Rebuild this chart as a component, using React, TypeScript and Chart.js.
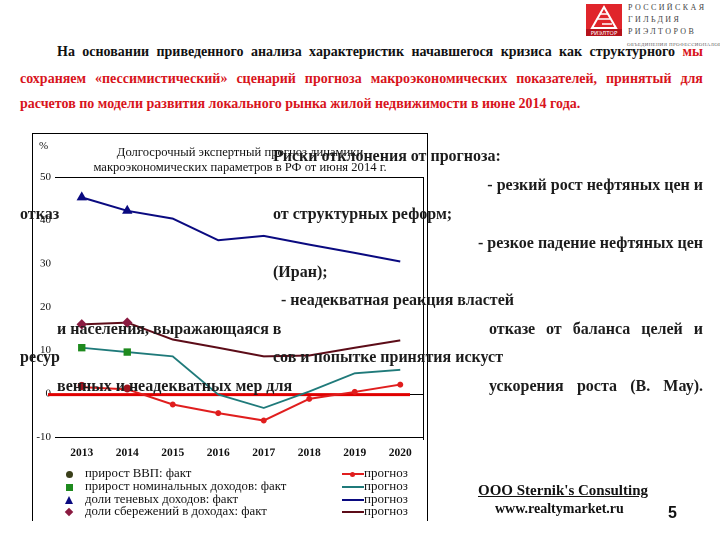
import React, { useEffect, useRef } from "react";
import { Chart, registerables } from "chart.js";
Chart.register(...registerables);

// ---------- data ----------
const years = ["2013", "2014", "2015", "2016", "2017", "2018", "2019", "2020"];
const gdpFact = [1.8, 1.2, null, null, null, null, null, null];
const gdpForecast = [1.5, 1.0, -2.5, -4.5, -6.2, -1.2, 0.4, 2.1];
const incomeFact = [10.6, 9.6, null, null, null, null, null, null];
const incomeForecast = [10.6, 9.6, 8.6, -0.2, -3.3, 0.5, 4.7, 5.5];
const shadowFact = [45.3, 42.2, null, null, null, null, null, null];
const shadowForecast = [45.3, 42.2, 40.4, 35.4, 36.4, 34.4, 32.5, 30.5];
const savingsFact = [16.0, 16.4, null, null, null, null, null, null];
const savingsForecast = [16.0, 16.4, 12.5, 10.6, 8.6, 8.8, 10.6, 12.3];
const yMin = -10;
const yMax = 50;
const yStep = 10;

const factLabels = [
  "прирост ВВП: факт",
  "прирост номинальных доходов: факт",
  "доли теневых доходов: факт",
  "доли сбережений в доходах: факт",
];
const forecastLabel = "прогноз";
const chartTitle = [
  "Долгосрочный экспертный прогноз динамики",
  "макроэкономических параметров в РФ от июня 2014 г.",
];
const unitLabel = "%";

// ---------- styles ----------
const C_GDP = "#e01e1e";
const C_GDP_FACT = "#a0141e";
const C_INC = "#1f7a7a";
const C_INC_FACT = "#1e8a1e";
const C_SH = "#0a0a80";
const C_SAV = "#5c0c18";
const C_SAV_FACT = "#8a1a40";
const RED_TXT = "#d8141c";
const SERIF = "'Liberation Serif', 'DejaVu Serif', serif";

const framePlugin = {
  id: "frame",
  beforeDatasetsDraw(chart: any) {
    const { ctx, chartArea } = chart;
    const ys = chart.scales.y;
    const { left, right, top, bottom } = chartArea;
    ctx.save();
    ctx.strokeStyle = "#000";
    ctx.lineWidth = 1;
    ctx.beginPath();
    ctx.moveTo(left - 4, Math.round(top) + 0.5);
    ctx.lineTo(right, Math.round(top) + 0.5);
    ctx.moveTo(left - 4, Math.round(bottom) + 0.5);
    ctx.lineTo(right, Math.round(bottom) + 0.5);
    ctx.moveTo(Math.round(right) + 0.5, top);
    ctx.lineTo(Math.round(right) + 0.5, bottom + 3);
    const y0 = ys.getPixelForValue(0);
    ctx.moveTo(left - 4, Math.round(y0) + 0.5);
    ctx.lineTo(right, Math.round(y0) + 0.5);
    ctx.stroke();
    // thick red zero line
    ctx.strokeStyle = "#e00000";
    ctx.lineWidth = 3;
    ctx.beginPath();
    ctx.moveTo(left - 11, y0 + 1);
    ctx.lineTo(right - 13, y0 + 1);
    ctx.stroke();
    ctx.restore();
  },
};

function ChartCanvas() {
  const ref = useRef<HTMLCanvasElement | null>(null);
  useEffect(() => {
    if (!ref.current) return;
    const factDs = (label: string, data: any[], style: string, color: string, r: number) => ({
      label,
      data,
      showLine: false,
      pointStyle: style,
      pointRadius: r,
      pointBackgroundColor: color,
      pointBorderColor: color,
      borderColor: color,
      backgroundColor: color,
    });
    const lineDs = (label: string, data: any[], color: string, w: number, r: number) => ({
      label,
      data,
      borderColor: color,
      backgroundColor: color,
      borderWidth: w,
      pointRadius: r,
      pointBackgroundColor: color,
      pointBorderColor: color,
      tension: 0,
    });
    const chart = new Chart(ref.current, {
      type: "line",
      data: {
        labels: years,
        datasets: [
          factDs(factLabels[0], gdpFact, "circle", C_GDP_FACT, 3.5),
          factDs(factLabels[1], incomeFact, "rect", C_INC_FACT, 4.5),
          factDs(factLabels[2], shadowFact, "triangle", C_SH, 5),
          factDs(factLabels[3], savingsFact, "rectRot", C_SAV_FACT, 4.5),
          lineDs(forecastLabel, gdpForecast, C_GDP, 2, 2),
          lineDs(forecastLabel, incomeForecast, C_INC, 1.8, 0),
          lineDs(forecastLabel, shadowForecast, C_SH, 2, 0),
          lineDs(forecastLabel, savingsForecast, C_SAV, 2, 0),
        ] as any,
      },
      options: {
        animation: false,
        responsive: false,
        devicePixelRatio: 2,
        layout: { padding: { top: 177, right: 297, bottom: 73, left: 0 } },
        plugins: { legend: { display: false }, tooltip: { enabled: false }, title: { display: false } },
        scales: {
          x: {
            offset: true,
            grid: { display: false, drawTicks: false },
            border: { display: false },
            ticks: {
              color: "#111",
              font: { family: SERIF, size: 11.5, weight: "bold" },
              padding: 9,
              maxRotation: 0,
              autoSkip: false,
            },
            afterFit: (s: any) => {
              s.height = 30;
            },
          },
          y: {
            min: yMin,
            max: yMax,
            grid: { display: false, drawTicks: false },
            border: { display: false },
            ticks: {
              stepSize: yStep,
              color: "#111",
              font: { family: SERIF, size: 11 },
              padding: 8,
            },
            afterFit: (s: any) => {
              s.width = 59;
            },
          },
        },
      },
      plugins: [framePlugin],
    });
    return () => chart.destroy();
  }, []);
  return (
    <canvas
      ref={ref}
      width={720}
      height={540}
      style={{ position: "absolute", left: 0, top: 0, width: 720, height: 540 }}
    />
  );
}

type Seg = { t: string; c?: string };
type TP = {
  x: number;
  y: number;
  fs: number;
  w?: number;
  bold?: boolean;
  color?: string;
  justify?: boolean;
  family?: string;
  ls?: number;
  underline?: boolean;
  segs?: Seg[];
  children?: any;
};
function T({ x, y, fs, w, bold, color, justify, family, ls, underline, segs, children }: TP) {
  const style: any = {
    position: "absolute",
    left: x,
    top: y - 0.73 * fs,
    fontSize: fs,
    lineHeight: `${1.25 * fs}px`,
    fontFamily: family || SERIF,
    fontWeight: bold ? "bold" : "normal",
    color: color || "#111",
    whiteSpace: "nowrap",
    letterSpacing: ls || 0,
    textDecoration: underline ? "underline" : "none",
  };
  if (justify && w) {
    const parts: Seg[] = segs || [{ t: String(children) }];
    const words: { t: string; c?: string }[] = [];
    parts.forEach((p) => p.t.split(/\s+/).filter((s) => s).forEach((wd) => words.push({ t: wd, c: p.c })));
    return (
      <div style={{ ...style, width: w, display: "flex", justifyContent: "space-between" }}>
        {words.map((wd, i) => (
          <span key={i} style={wd.c ? { color: wd.c } : undefined}>
            {wd.t}
          </span>
        ))}
      </div>
    );
  }
  return <div style={style}>{children}</div>;
}

function RightT(props: TP & { right: number }) {
  const { right } = props;
  return (
    <div style={{ position: "absolute", left: 0, top: 0, width: right }}>
      <div
        style={{
          position: "absolute",
          right: 0,
          top: props.y - 0.73 * props.fs,
          fontSize: props.fs,
          lineHeight: `${1.25 * props.fs}px`,
          fontFamily: SERIF,
          fontWeight: props.bold ? "bold" : "normal",
          color: props.color || "#111",
          whiteSpace: "nowrap",
        }}
      >
        {props.children}
      </div>
    </div>
  );
}

function Logo() {
  return (
    <div>
      <div style={{ position: "absolute", left: 586, top: 4, width: 36, height: 32, background: "#e0252b" }}>
        <svg width="36" height="32" style={{ position: "absolute", left: 0, top: 0 }}>
          <path d="M18 3 L6 24 L30 24 Z" fill="none" stroke="#fff" strokeWidth="2" />
          <path d="M14 10 L22 10 M12 15 L24 15 M16 20 L26 20" stroke="#fff" strokeWidth="1.5" />
          <rect x="0" y="25" width="36" height="7" fill="#b5121b" />
          <text x="18" y="31" fontSize="5.5" fill="#fff" textAnchor="middle" fontFamily="DejaVu Sans">
            РИЭЛТОР
          </text>
        </svg>
      </div>
      <T x={628} y={9} fs={8} ls={2.4} color="#444">РОССИЙСКАЯ</T>
      <T x={628} y={21} fs={8} ls={2.4} color="#444">ГИЛЬДИЯ</T>
      <T x={628} y={33} fs={8} ls={2.4} color="#444">РИЭЛТОРОВ</T>
      <T x={627} y={46} fs={5} ls={0.3} color="#666">ОБЪЕДИНЕНИЯ ПРОФЕССИОНАЛОВ</T>
    </div>
  );
}

function Legend() {
  const rows = [474, 487, 500, 512];
  const markers = [
    <div style={{ width: 7, height: 7, borderRadius: 4, background: "#3a3f1a" }} />,
    <div style={{ width: 7, height: 7, background: C_INC_FACT }} />,
    <div
      style={{
        width: 0,
        height: 0,
        borderLeft: "4px solid transparent",
        borderRight: "4px solid transparent",
        borderBottom: `8px solid ${C_SH}`,
      }}
    />,
    <div style={{ width: 6, height: 6, background: C_SAV_FACT, transform: "rotate(45deg)" }} />,
  ];
  const lineColors = [C_GDP, C_INC, C_SH, C_SAV];
  return (
    <div>
      {factLabels.map((lab, i) => (
        <div key={"f" + i}>
          <div
            style={{
              position: "absolute",
              left: 65,
              top: rows[i] - 4,
              width: 8,
              height: 8,
              display: "flex",
              alignItems: "center",
              justifyContent: "center",
            }}
          >
            {markers[i]}
          </div>
          <T x={85} y={rows[i]} fs={12.8}>{lab}</T>
          <div style={{ position: "absolute", left: 342, top: rows[i] - 1, width: 22, height: 2, background: lineColors[i] }} />
          {i === 0 && (
            <div style={{ position: "absolute", left: 350, top: rows[i] - 2.5, width: 5, height: 5, borderRadius: 3, background: C_GDP }} />
          )}
          <T x={364} y={rows[i]} fs={13}>{forecastLabel}</T>
        </div>
      ))}
    </div>
  );
}

export default function App() {
  const ov = 16; // overlay font
  const ovc = "#1c1c1c";
  return (
    <div style={{ position: "absolute", left: 0, top: 0, width: 720, height: 540, background: "#fff", overflow: "hidden" }}>
      <Logo />
      {/* top paragraph */}
      <T
        x={57}
        y={53}
        w={646}
        fs={14}
        bold
        justify
        segs={[
          { t: "На основании приведенного анализа характеристик начавшегося кризиса как структурного" },
          { t: "мы", c: RED_TXT },
        ]}
      />
      <T x={20} y={80} w={683} fs={14} bold justify color={RED_TXT}>
        сохраняем «пессимистический» сценарий прогноза макроэкономических показателей, принятый для
      </T>
      <T x={20} y={105} fs={14} bold color={RED_TXT}>
        расчетов по модели развития локального рынка жилой недвижимости в июне 2014 года.
      </T>

      {/* chart box */}
      <div
        style={{
          position: "absolute",
          left: 32,
          top: 133,
          width: 394,
          height: 387,
          borderLeft: "1px solid #000",
          borderTop: "1px solid #000",
          borderRight: "1px solid #000",
        }}
      />
      <ChartCanvas />
      <T x={39} y={147} fs={11}>{unitLabel}</T>
      <div style={{ position: "absolute", left: 53, width: 374, top: 145, textAlign: "center", fontFamily: SERIF, fontSize: 12.6, lineHeight: "15px", color: "#111" }}>
        <div>{chartTitle[0]}</div>
        <div>{chartTitle[1]}</div>
      </div>
      <Legend />

      {/* overlay risk text */}
      <T x={273} y={158} fs={ov} bold color={ovc}>Риски отклонения от  прогноза:</T>
      <RightT right={703} x={0} y={187} fs={ov} bold color={ovc}>- резкий рост нефтяных цен и</RightT>
      <T x={20} y={216} fs={ov} bold color={ovc}>отказ</T>
      <T x={273} y={216} fs={ov} bold color={ovc}>от структурных реформ;</T>
      <RightT right={703} x={0} y={245} fs={ov} bold color={ovc}>- резкое падение нефтяных цен</RightT>
      <T x={273} y={274} fs={ov} bold color={ovc}>(Иран);</T>
      <T x={281} y={302} fs={ov} bold color={ovc}>- неадекватная реакция властей</T>
      <T x={57} y={331} fs={ov} bold color={ovc}>и населения, выражающаяся в</T>
      <T x={489} y={331} w={214} fs={ov} bold justify color={ovc}>отказе от баланса целей и</T>
      <T x={20} y={359} fs={ov} bold color={ovc}>ресур</T>
      <T x={273} y={359} fs={ov} bold color={ovc}>сов и попытке принятия искуст</T>
      <T x={57} y={388} fs={ov} bold color={ovc}>венных и неадекватных  мер для</T>
      <T x={489} y={388} w={214} fs={ov} bold justify color={ovc}>ускорения роста (В. Мау).</T>

      {/* footer */}
      <T x={478} y={492} fs={15} bold underline>OOO Sternik's Consulting</T>
      <T x={495} y={510} fs={14} bold>www.realtymarket.ru</T>
      <T x={668} y={515} fs={16} bold family="'Liberation Sans', Arial, sans-serif">5</T>
    </div>
  );
}
